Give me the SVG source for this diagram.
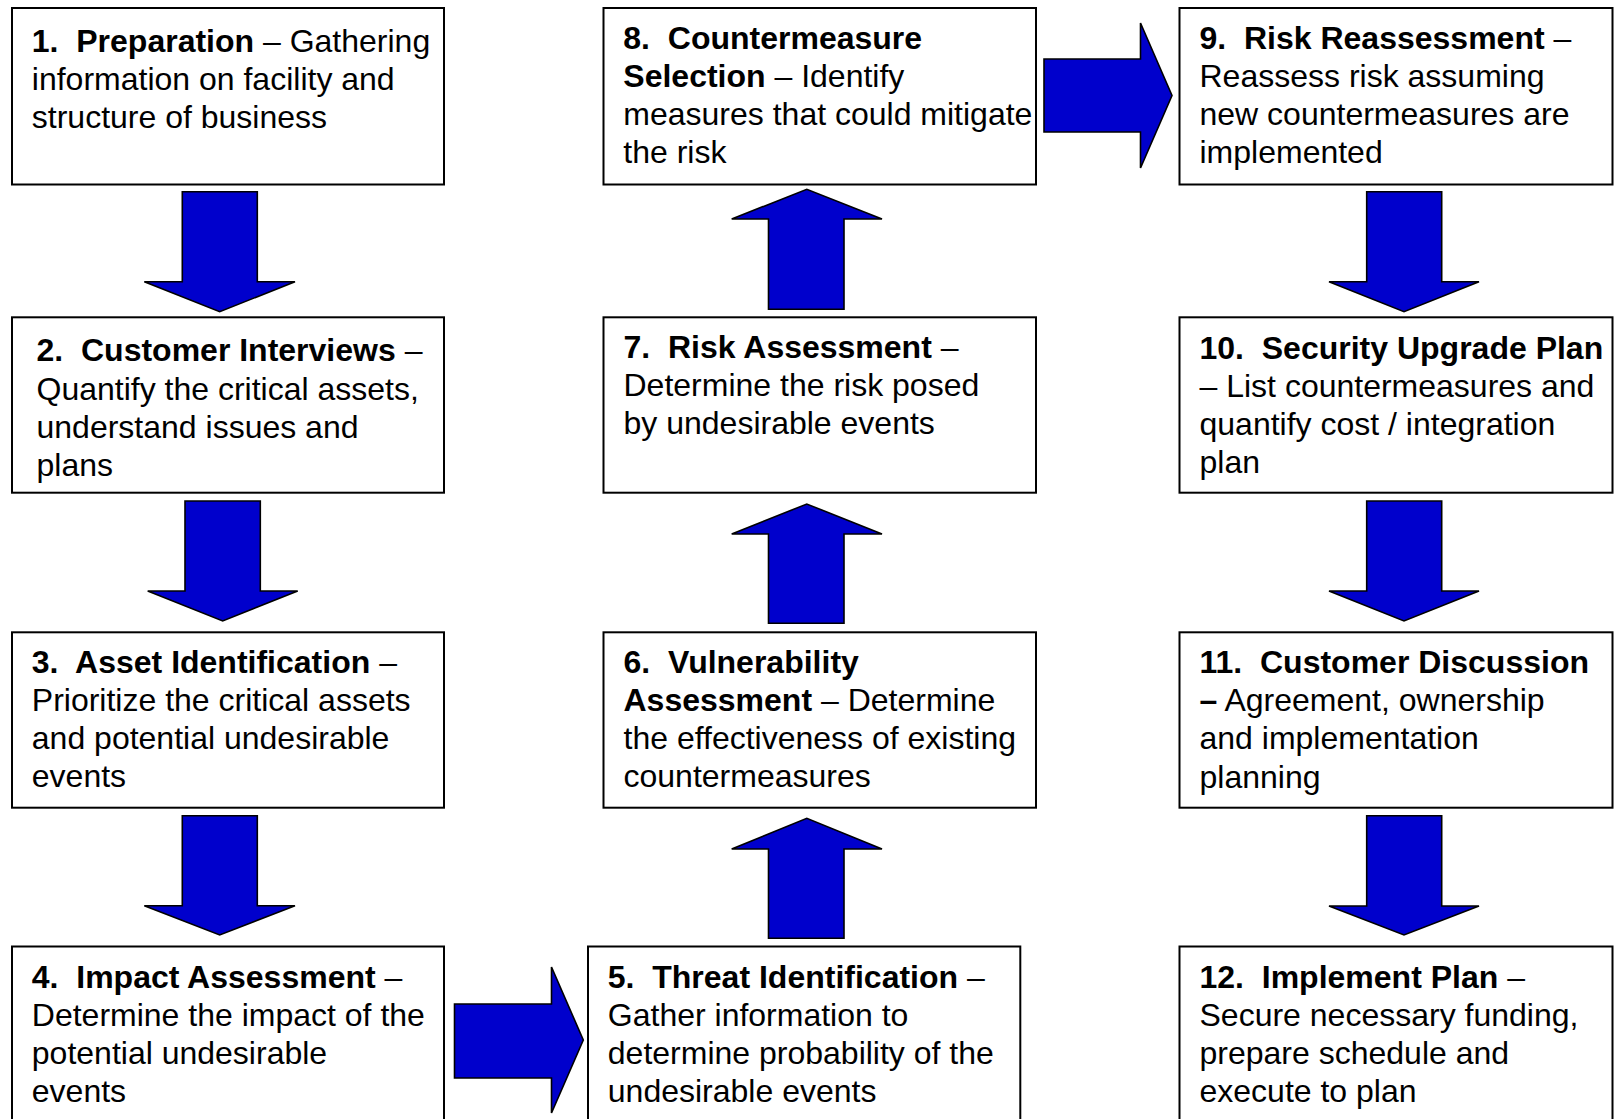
<svg xmlns="http://www.w3.org/2000/svg" width="1616" height="1119" viewBox="0 0 1616 1119">
<style>
.box{fill:#fff;stroke:#000;stroke-width:2}
.arr{fill:#0000CC;stroke:#000;stroke-width:1.6;stroke-linejoin:miter}
text{font-family:"Liberation Sans",Arial,sans-serif;font-size:32px;fill:#000}
.b{font-weight:bold}
</style>
<rect width="1616" height="1119" fill="#fff"/>
<g id="connectors">
<polygon class="arr" points="182.3,191.7 257.3,191.7 257.3,281.7 295,281.7 219.7,311.7 144.3,281.7 182.3,281.7"/>
<polygon class="arr" points="185,501 260.3,501 260.3,591 297.7,591 222.7,621 147.7,591 185,591"/>
<polygon class="arr" points="182.3,815.7 257.3,815.7 257.3,905.7 295,905.7 219.7,935 144.3,905.7 182.3,905.7"/>
<polygon class="arr" points="454.5,1004 551.5,1004 551.5,967 583.3,1040 551.5,1113 551.5,1078 454.5,1078"/>
<polygon class="arr" points="768.5,938.3 844,938.3 844,849 882,849 806.8,818.3 731.7,849 768.5,849"/>
<polygon class="arr" points="768.5,623.3 844,623.3 844,534 882,534 806.8,504 731.7,534 768.5,534"/>
<polygon class="arr" points="768.5,309.3 844,309.3 844,219 882,219 806.8,189.3 731.7,219 768.5,219"/>
<polygon class="arr" points="1044,59 1140.5,59 1140.5,23 1172,95.5 1140.5,168 1140.5,132 1044,132"/>
<polygon class="arr" points="1366.7,191.7 1441.7,191.7 1441.7,281.7 1479,281.7 1404,311.7 1329,281.7 1366.7,281.7"/>
<polygon class="arr" points="1366.7,501 1441.7,501 1441.7,591 1479,591 1404,621 1329,591 1366.7,591"/>
<polygon class="arr" points="1366.7,815.7 1441.7,815.7 1441.7,906 1479,906 1404,935 1329,906 1366.7,906"/>
</g>
<g id="node1">
<rect class="box" x="12" y="8" width="432" height="176.5"/>
<text x="31.8" y="52"><tspan class="b">1.&#160; Preparation</tspan> – Gathering<tspan x="31.8" y="90.2">information on facility and</tspan><tspan x="31.8" y="128.4">structure of business</tspan></text>
</g>
<g id="node2">
<rect class="box" x="12" y="317.3" width="432" height="175.4"/>
<text x="36.5" y="361.3"><tspan class="b">2.&#160; Customer Interviews</tspan> –<tspan x="36.5" y="399.5">Quantify the critical assets,</tspan><tspan x="36.5" y="437.7">understand issues and</tspan><tspan x="36.5" y="475.9">plans</tspan></text>
</g>
<g id="node3">
<rect class="box" x="12" y="632.3" width="432" height="175.4"/>
<text x="31.8" y="672.5"><tspan class="b">3.&#160; Asset Identification</tspan> –<tspan x="31.8" y="710.7">Prioritize the critical assets</tspan><tspan x="31.8" y="748.9">and potential undesirable</tspan><tspan x="31.8" y="787.1">events</tspan></text>
</g>
<g id="node4">
<rect class="box" x="12" y="946.5" width="432" height="175.5"/>
<text x="31.8" y="987.5"><tspan class="b">4.&#160; Impact Assessment</tspan> –<tspan x="31.8" y="1025.7">Determine the impact of the</tspan><tspan x="31.8" y="1063.9">potential undesirable</tspan><tspan x="31.8" y="1102.1">events</tspan></text>
</g>
<g id="node5">
<rect class="box" x="588" y="946.5" width="432.3" height="175.5"/>
<text x="607.8" y="987.5"><tspan class="b">5.&#160; Threat Identification</tspan> –<tspan x="607.8" y="1025.7">Gather information to</tspan><tspan x="607.8" y="1063.9">determine probability of the</tspan><tspan x="607.8" y="1102.1">undesirable events</tspan></text>
</g>
<g id="node6">
<rect class="box" x="603.5" y="632.3" width="432.5" height="175.4"/>
<text x="623.5" y="672.5"><tspan class="b">6.&#160; Vulnerability</tspan><tspan x="623.5" y="710.7" class="b">Assessment</tspan><tspan> – Determine</tspan><tspan x="623.5" y="748.9">the effectiveness of existing</tspan><tspan x="623.5" y="787.1">countermeasures</tspan></text>
</g>
<g id="node7">
<rect class="box" x="603.5" y="317.3" width="432.5" height="175.4"/>
<text x="623.5" y="358"><tspan class="b">7.&#160; Risk Assessment</tspan> –<tspan x="623.5" y="396.2">Determine the risk posed</tspan><tspan x="623.5" y="434.4">by undesirable events</tspan></text>
</g>
<g id="node8">
<rect class="box" x="603.5" y="8" width="432.5" height="176.5"/>
<text x="623.3" y="48.8"><tspan class="b">8.&#160; Countermeasure</tspan><tspan x="623.3" y="87" class="b">Selection</tspan><tspan> – Identify</tspan><tspan x="623.3" y="125.2">measures that could mitigate</tspan><tspan x="623.3" y="163.4">the risk</tspan></text>
</g>
<g id="node9">
<rect class="box" x="1179.5" y="8" width="433" height="176.5"/>
<text x="1199.5" y="48.8"><tspan class="b">9.&#160; Risk Reassessment</tspan> –<tspan x="1199.5" y="87">Reassess risk assuming</tspan><tspan x="1199.5" y="125.2">new countermeasures are</tspan><tspan x="1199.5" y="163.4">implemented</tspan></text>
</g>
<g id="node10">
<rect class="box" x="1179.5" y="317.3" width="433" height="175.4"/>
<text x="1199.5" y="358.5"><tspan class="b">10.&#160; Security Upgrade Plan</tspan><tspan x="1199.5" y="396.7">– List countermeasures and</tspan><tspan x="1199.5" y="434.9">quantify cost / integration</tspan><tspan x="1199.5" y="473.1">plan</tspan></text>
</g>
<g id="node11">
<rect class="box" x="1179.5" y="632.3" width="433" height="175.4"/>
<text x="1199.5" y="673"><tspan class="b">11.&#160; Customer Discussion</tspan><tspan x="1199.5" y="711.2" class="b">–</tspan><tspan> Agreement, ownership</tspan><tspan x="1199.5" y="749.4">and implementation</tspan><tspan x="1199.5" y="787.6">planning</tspan></text>
</g>
<g id="node12">
<rect class="box" x="1179.5" y="946.5" width="433" height="175.5"/>
<text x="1199.5" y="987.5"><tspan class="b">12.&#160; Implement Plan</tspan> –<tspan x="1199.5" y="1025.7">Secure necessary funding,</tspan><tspan x="1199.5" y="1063.9">prepare schedule and</tspan><tspan x="1199.5" y="1102.1">execute to plan</tspan></text>
</g>
</svg>
